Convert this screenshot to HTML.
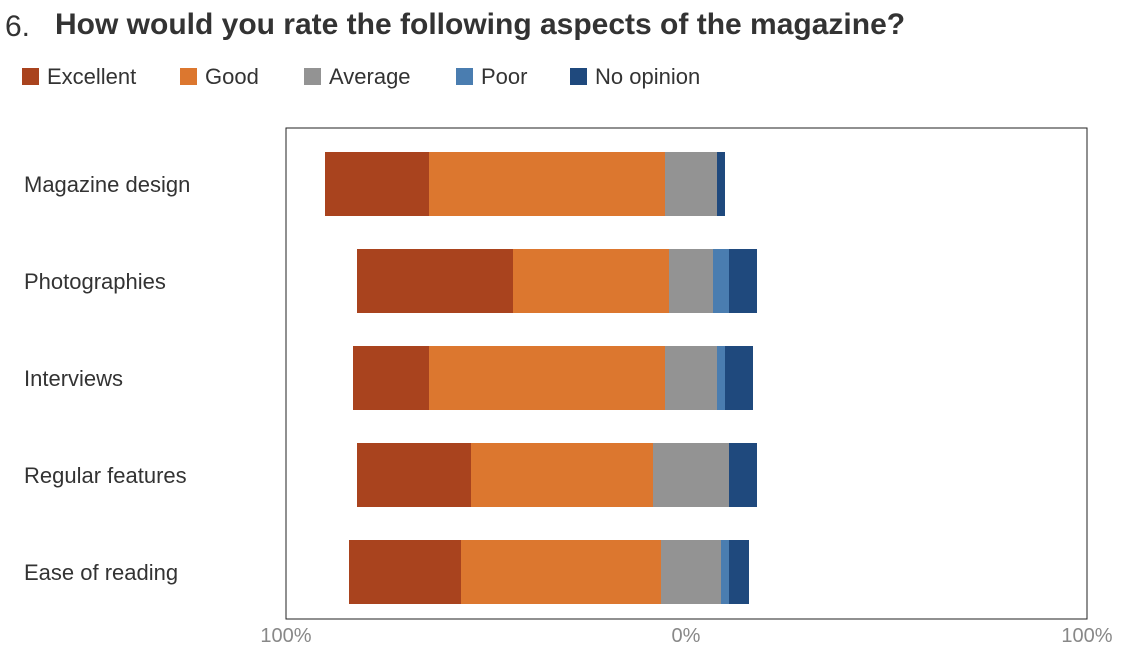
<!DOCTYPE html>
<html><head><meta charset="utf-8"><style>
body{margin:0;width:1125px;height:650px;background:#fff;font-family:"Liberation Sans",sans-serif;overflow:hidden}
</style></head><body>
<svg width="1125" height="650" xmlns="http://www.w3.org/2000/svg">
<text x="5" y="36" font-size="30" fill="#333">6.</text>
<text x="55" y="34" font-size="30" font-weight="bold" fill="#333">How would you rate the following aspects of the magazine?</text>
<g id="legend"></g>
<rect x="286" y="128" width="801" height="491" fill="none" stroke="#222" stroke-width="1"/>
<g id="labels"></g>
<g id="bars"></g>
<g id="ticks"></g>
</svg>
<script>
const categories=["Magazine design","Photographies","Interviews","Regular features","Ease of reading"];
const seriesNames=["Excellent","Good","Average","Poor","No opinion"];
const excellent=[26,39,19,28.5,28];
const good=[59,39,59,45.5,50];
const average=[13,11,13,19,15];
const poor=[0,4,2,0,2];
const noOpinion=[2,7,7,7,5];
const tickLabels=["100%","0%","100%"];
const colors=["#a9431e","#dc772f","#939393","#4a7db0","#1f497d"];
const NS="http://www.w3.org/2000/svg";
const zero=691, scale=4;
const x=v=>zero+v*scale;
const rowY=i=>152+i*97, barH=64;
function mk(tag,attrs,parent){const e=document.createElementNS(NS,tag);for(const k in attrs)e.setAttribute(k,attrs[k]);parent.appendChild(e);return e;}
const bars=document.getElementById('bars'),labels=document.getElementById('labels'),legend=document.getElementById('legend'),ticks=document.getElementById('ticks');
const legX=[22,180,304,456,570];
seriesNames.forEach((n,i)=>{
  const r=mk('rect',{x:legX[i],y:68,width:17,height:17,fill:colors[i]},legend);
  
  
  const t=mk('text',{x:legX[i]+25,y:84,'font-size':22,fill:'#333'},legend);t.textContent=n;
  
  
});
categories.forEach((c,i)=>{
  const t=mk('text',{x:24,y:rowY(i)+barH/2+8,'font-size':22,fill:'#333'},labels);t.textContent=c;
  
  
  const vals=[excellent[i],good[i],average[i],poor[i],noOpinion[i]];
  let start=-(vals[0]+vals[1]+vals[2]/2);
  vals.forEach((v,j)=>{
    if(v>0){
      const r=mk('rect',{x:x(start),y:rowY(i),width:v*scale,height:barH,fill:colors[j]},bars);
      
      
    }
    start+=v;
  });
});
const tickX=[286,686,1087];
tickLabels.forEach((l,i)=>{
  const t=mk('text',{x:tickX[i],y:642,'font-size':20,fill:'#888','text-anchor':'middle'},ticks);t.textContent=l;
  
  
});
</script>
</body></html>
